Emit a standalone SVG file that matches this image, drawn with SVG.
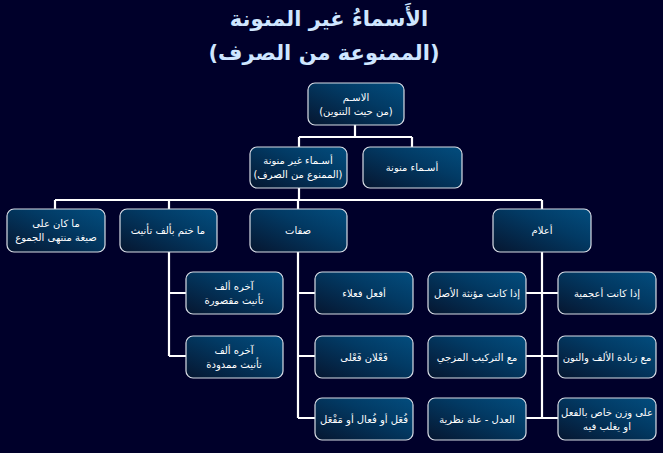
<svg xmlns="http://www.w3.org/2000/svg" width="663" height="453" viewBox="0 0 663 453">
<defs>
<linearGradient id="g" x1="0" y1="1" x2="1" y2="0">
<stop offset="0" stop-color="#061630"/>
<stop offset="0.6" stop-color="#023a64"/>
<stop offset="1" stop-color="#034d7e"/>
</linearGradient>
<style>
.b{fill:url(#g);stroke:#d8dde6;stroke-width:1.2}
.t{font-family:"DejaVu Sans",sans-serif;font-size:10px;fill:#ffffff;text-anchor:middle}
.h{font-family:"DejaVu Sans",sans-serif;font-size:21px;font-weight:bold;fill:#cfe6ff;text-anchor:middle}
.c{stroke:#ffffff;stroke-width:2.2;fill:none}
</style>
</defs>
<rect width="663" height="453" fill="#00002a"/>
<text class="h" x="329" y="26" direction="rtl">الأَسماءُ غير المنونة</text>
<text class="h" x="324" y="60" direction="rtl">(الممنوعة من الصرف)</text>
<g id="connectors">
<path class="c" d="M355 125V137M299 137H412M299 137V147M412 137V147"/>
<path class="c" d="M299 188V200M55 200H542M55 200V209M169 200V209M298 200V209M542 200V209"/>
<path class="c" d="M169 252V356M169 293H186M169 356H186"/>
<path class="c" d="M298 252V418M298 293H315M298 356H315M298 418H315"/>
<path class="c" d="M542 252V418M526 293H558M526 356H558M526 418H558"/>
</g>
<g id="root"><rect class="b" x="308" y="83" width="96" height="42" rx="7"/><text class="t" x="356" y="101" direction="rtl">الاسـم</text><text class="t" x="356" y="115" direction="rtl">(من حيث التنوين)</text></g>
<g id="ghayr"><rect class="b" x="250" y="147" width="97" height="41" rx="7"/><text class="t" x="298" y="164" direction="rtl">أسـماء غير منونة</text><text class="t" x="298" y="178" direction="rtl">(الممنوع من الصرف)</text></g>
<g id="munawwana"><rect class="b" x="363" y="147" width="99" height="41" rx="7"/><text class="t" x="412" y="171" direction="rtl">أسـماء منونة</text></g>
<g id="sigha"><rect class="b" x="7" y="209" width="98" height="43" rx="7"/><text class="t" x="56" y="227" direction="rtl">ما كان على</text><text class="t" x="56" y="241" direction="rtl">صيغة منتهى الجموع</text></g>
<g id="alif"><rect class="b" x="120" y="209" width="97" height="43" rx="7"/><text class="t" x="168" y="234" direction="rtl">ما ختم بألف تأنيث</text></g>
<g id="sifat"><rect class="b" x="250" y="209" width="97" height="43" rx="7"/><text class="t" x="298" y="234" direction="rtl">صفات</text></g>
<g id="alam"><rect class="b" x="493" y="209" width="98" height="43" rx="7"/><text class="t" x="542" y="234" direction="rtl">أعلام</text></g>
<g id="maqsura"><rect class="b" x="186" y="272" width="97" height="42" rx="7"/><text class="t" x="234" y="290" direction="rtl">آخره ألف</text><text class="t" x="234" y="304" direction="rtl">تأنيث مقصورة</text></g>
<g id="mamduda"><rect class="b" x="186" y="336" width="97" height="42" rx="7"/><text class="t" x="234" y="354" direction="rtl">آخره ألف</text><text class="t" x="234" y="368" direction="rtl">تأنيث ممدودة</text></g>
<g id="afal"><rect class="b" x="315" y="272" width="98" height="42" rx="7"/><text class="t" x="364" y="297" direction="rtl">أفعل فعلاء</text></g>
<g id="falan"><rect class="b" x="315" y="336" width="98" height="42" rx="7"/><text class="t" x="364" y="361" direction="rtl">فَعْلان فَعْلى</text></g>
<g id="fual"><rect class="b" x="315" y="398" width="98" height="42" rx="7"/><text class="t" x="364" y="423" direction="rtl">فُعَل أو فُعال أو مَفْعَل</text></g>
<g id="muannatha"><rect class="b" x="428" y="272" width="98" height="42" rx="7"/><text class="t" x="477" y="297" direction="rtl">إذا كانت مؤنثة الأصل</text></g>
<g id="ajamiyya"><rect class="b" x="558" y="272" width="98" height="42" rx="7"/><text class="t" x="607" y="297" direction="rtl">إذا كانت أعجمية</text></g>
<g id="tarkib"><rect class="b" x="428" y="336" width="98" height="42" rx="7"/><text class="t" x="477" y="361" direction="rtl">مع التركيب المزجي</text></g>
<g id="ziyada"><rect class="b" x="558" y="336" width="98" height="42" rx="7"/><text class="t" x="607" y="361" direction="rtl">مع زيادة الألف والنون</text></g>
<g id="adl"><rect class="b" x="428" y="398" width="98" height="42" rx="7"/><text class="t" x="477" y="423" direction="rtl">العدل - علة نظرية</text></g>
<g id="wazn"><rect class="b" x="558" y="398" width="98" height="42" rx="7"/><text class="t" x="607" y="416" direction="rtl">على وزن خاص بالفعل</text><text class="t" x="607" y="430" direction="rtl">او يغلب فيه</text></g>
</svg>
